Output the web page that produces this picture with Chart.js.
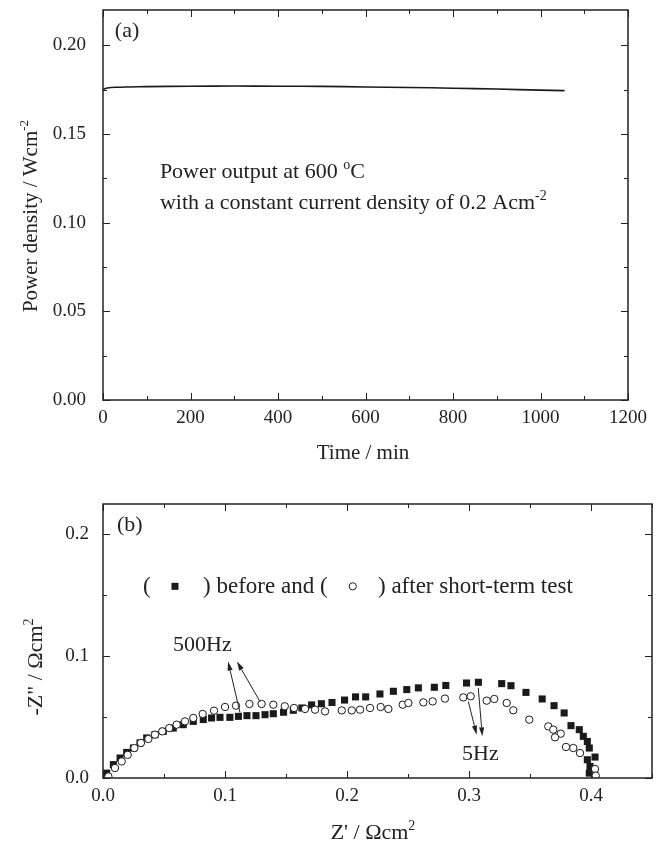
<!DOCTYPE html>
<html>
<head>
<meta charset="utf-8">
<script src="https://cdn.jsdelivr.net/npm/chart.js@4.4.0/dist/chart.umd.min.js"></script>
<style>
  html, body { margin: 0; padding: 0; background: #fff; }
  #wrap { position: relative; width: 659px; height: 844px; }
  canvas { position: absolute; left: 0; top: 0; }
</style>
</head>
<body>
<div id="wrap">
  <canvas id="chartA" width="659" height="844"></canvas>
  <canvas id="chartB" width="659" height="844"></canvas>
</div>
<script>
// (a) power density vs time
const timeMin = [0, 10, 30, 60, 100, 200, 300, 400, 500, 600, 700, 800, 900, 1000, 1055];
const powerDensity = [0.1752, 0.1760, 0.1764, 0.1766, 0.1768, 0.1770, 0.1771, 0.1770, 0.1769, 0.1766, 0.1763, 0.1759, 0.1754, 0.1748, 0.1745];

// (b) impedance spectra, before the test (filled squares)
const beforeRe = [0.003, 0.0085, 0.014, 0.0194, 0.0249, 0.0303, 0.0358, 0.0426, 0.0494, 0.0576, 0.0658, 0.074,
  0.0822, 0.089, 0.0959, 0.104, 0.111, 0.118, 0.1254, 0.1328, 0.1396, 0.148, 0.156, 0.163, 0.171, 0.179,
  0.1877, 0.198, 0.207, 0.2153, 0.227, 0.238, 0.249, 0.2585, 0.2716, 0.281, 0.298, 0.3077, 0.3268, 0.3344,
  0.3467, 0.360, 0.3697, 0.378, 0.3836, 0.3904, 0.3937, 0.397, 0.3986, 0.4033, 0.397, 0.3992, 0.3986];
const beforeIm = [0.004, 0.011, 0.0164, 0.021, 0.0246, 0.0288, 0.0329, 0.0356, 0.0383, 0.041, 0.0438, 0.0465,
  0.048, 0.0493, 0.0498, 0.0498, 0.0506, 0.0512, 0.0512, 0.052, 0.0528, 0.054, 0.0556, 0.0575, 0.060, 0.061,
  0.062, 0.064, 0.0666, 0.0666, 0.069, 0.0712, 0.0726, 0.074, 0.0745, 0.076, 0.078, 0.0786, 0.0775, 0.0758,
  0.0703, 0.0649, 0.0594, 0.0534, 0.043, 0.0397, 0.0342, 0.030, 0.0246, 0.0172, 0.015, 0.0095, 0.004];

// after the short-term test (open circles)
const afterRe = [0.0044, 0.0098, 0.0153, 0.0202, 0.0257, 0.0311, 0.0372, 0.0426, 0.0486, 0.0543, 0.0604, 0.0672,
  0.074, 0.0817, 0.091, 0.100, 0.109, 0.120, 0.130, 0.1396, 0.149, 0.1566, 0.1656, 0.1738, 0.182, 0.1957,
  0.2039, 0.2107, 0.2189, 0.2276, 0.2339, 0.2457, 0.2503, 0.2626, 0.2702, 0.2803, 0.2953, 0.3014, 0.3145,
  0.3207, 0.3309, 0.3363, 0.3494, 0.365, 0.3691, 0.3752, 0.3705, 0.3795, 0.3855, 0.391, 0.4033, 0.4039];
const afterIm = [0.0013, 0.0082, 0.0136, 0.019, 0.0246, 0.0288, 0.032, 0.0356, 0.0383, 0.041, 0.0438, 0.0465,
  0.0493, 0.0526, 0.0553, 0.0583, 0.0594, 0.0608, 0.0608, 0.0602, 0.0589, 0.0575, 0.0567, 0.0561, 0.0547, 0.0555,
  0.0555, 0.0561, 0.0575, 0.0583, 0.0567, 0.0602, 0.0616, 0.0621, 0.0629, 0.0652, 0.0662, 0.0671, 0.0635,
  0.0649, 0.0616, 0.0556, 0.0479, 0.0424, 0.0397, 0.0364, 0.0334, 0.0255, 0.0246, 0.0205, 0.0074, 0.0019];

const serif = "'Liberation Serif', 'Times New Roman', serif";
const ink = '#222';
const tickFont = { family: serif, size: 19, lineHeight: 1 };

function toPoints(xs, ys) {
  return xs.map((x, i) => ({ x: x, y: ys[i] }));
}

function isMajor(v, step) {
  const r = v / step;
  return Math.abs(r - Math.round(r)) < 1e-6;
}

// text with optional superscript pieces, parts = [[text, sup], ...]
function drawRich(ctx, parts, x, y, size, align) {
  const supSize = Math.round(size * 0.62);
  let total = 0;
  const widths = parts.map(p => {
    ctx.font = (p[1] ? supSize : size) + 'px ' + serif;
    const w = ctx.measureText(p[0]).width;
    total += w;
    return w;
  });
  let cx = align === 'center' ? x - total / 2 : x;
  ctx.textAlign = 'left';
  ctx.textBaseline = 'alphabetic';
  parts.forEach((p, i) => {
    ctx.font = (p[1] ? supSize : size) + 'px ' + serif;
    ctx.fillText(p[0], cx, p[1] ? y - size * 0.42 : y);
    cx += widths[i];
  });
}

function drawArrow(ctx, x1, y1, x2, y2) {
  const ang = Math.atan2(y2 - y1, x2 - x1);
  const len = 9, half = 2.6;
  const bx = x2 - len * Math.cos(ang), by = y2 - len * Math.sin(ang);
  ctx.beginPath();
  ctx.moveTo(x1, y1);
  ctx.lineTo(bx, by);
  ctx.stroke();
  ctx.beginPath();
  ctx.moveTo(x2, y2);
  ctx.lineTo(bx + half * Math.sin(ang), by - half * Math.cos(ang));
  ctx.lineTo(bx - half * Math.sin(ang), by + half * Math.cos(ang));
  ctx.closePath();
  ctx.fill();
}

// box around the plot and inward ticks on all four sides
const frameTicks = {
  id: 'frameTicks',
  afterDatasetsDraw(chart) {
    const { ctx, chartArea: a, scales } = chart;
    ctx.save();
    ctx.strokeStyle = ink;
    ctx.lineWidth = 1;
    scales.x.ticks.forEach(t => {
      const px = Math.round(scales.x.getPixelForValue(t.value)) + 0.5;
      const len = t.label !== '' ? 7 : 4;
      ctx.beginPath();
      ctx.moveTo(px, a.bottom); ctx.lineTo(px, a.bottom - len);
      ctx.moveTo(px, a.top); ctx.lineTo(px, a.top + len);
      ctx.stroke();
    });
    scales.y.ticks.forEach(t => {
      const py = Math.round(scales.y.getPixelForValue(t.value)) + 0.5;
      const len = t.label !== '' ? 7 : 4;
      ctx.beginPath();
      ctx.moveTo(a.left, py); ctx.lineTo(a.left + len, py);
      ctx.moveTo(a.right, py); ctx.lineTo(a.right - len, py);
      ctx.stroke();
    });
    ctx.lineWidth = 1.5;
    ctx.strokeRect(a.left, a.top, a.right - a.left, a.bottom - a.top);
    ctx.restore();
  }
};

// fixed axis box size; drop the label overhang padding so the plot area stays put
function fixSize(prop, px) {
  return s => {
    s[prop] = px;
    s.paddingTop = 0; s.paddingBottom = 0; s.paddingLeft = 0; s.paddingRight = 0;
  };
}

function axisOpts(min, max, step, majorStep, digits, labelPad, afterFit) {
  return {
    type: 'linear',
    min: min,
    max: max,
    grid: { display: false, drawTicks: false },
    border: { display: false },
    afterFit: afterFit,
    ticks: {
      stepSize: step,
      includeBounds: false,
      autoSkip: false,
      maxRotation: 0,
      padding: labelPad,
      font: tickFont,
      color: ink,
      callback: v => isMajor(v, majorStep) ? v.toFixed(digits) : ''
    }
  };
}

// ---- panel (a)
const notesA = {
  id: 'notesA',
  afterDraw(chart) {
    const { ctx, scales } = chart;
    const X = v => scales.x.getPixelForValue(v);
    const Y = v => scales.y.getPixelForValue(v);
    ctx.save();
    ctx.fillStyle = ink;
    drawRich(ctx, [['(a)']], X(27), Y(0.2045), 22, 'left');
    drawRich(ctx, [['Power output at 600 '], ['o', true], ['C']], X(130), Y(0.125), 22, 'left');
    drawRich(ctx, [['with a constant current density of 0.2 Acm'], ['-2', true]], X(130), Y(0.1076), 22, 'left');
    drawRich(ctx, [['Time / min']], 363, 459, 21, 'center');
    ctx.translate(37, 216);
    ctx.rotate(-Math.PI / 2);
    drawRich(ctx, [['Power density / Wcm'], ['-2', true]], 0, 0, 21, 'center');
    ctx.restore();
  }
};

new Chart(document.getElementById('chartA'), {
  type: 'scatter',
  data: {
    datasets: [{
      data: toPoints(timeMin, powerDensity),
      showLine: true,
      borderColor: '#1a1a1a',
      borderWidth: 1.6,
      pointRadius: 0,
      tension: 0.3
    }]
  },
  options: {
    responsive: false,
    animation: false,
    devicePixelRatio: 1,
    layout: { padding: { top: 10, right: 31, bottom: 394, left: 0 } },
    plugins: { legend: { display: false }, tooltip: { enabled: false } },
    scales: {
      x: axisOpts(0, 1200, 100, 200, 0, 9, fixSize('height', 50)),
      y: axisOpts(0, 0.22, 0.025, 0.05, 2, 17, fixSize('width', 103))
    }
  },
  plugins: [frameTicks, notesA]
});

// ---- panel (b)
const notesB = {
  id: 'notesB',
  afterDraw(chart) {
    const { ctx, scales } = chart;
    const X = v => scales.x.getPixelForValue(v);
    const Y = v => scales.y.getPixelForValue(v);
    ctx.save();
    ctx.fillStyle = ink;
    ctx.strokeStyle = ink;
    ctx.lineWidth = 1;
    drawRich(ctx, [['(b)']], X(0.0115), Y(0.2032), 22, 'left');

    // legend line
    const ly = Y(0.1523);
    drawRich(ctx, [['(']], X(0.0328), ly, 23, 'left');
    drawRich(ctx, [[') before and (']], X(0.082), ly, 23, 'left');
    drawRich(ctx, [[') after short-term test']], X(0.2254), ly, 23, 'left');
    const my = Y(0.1574);
    ctx.fillStyle = '#1a1a1a';
    ctx.fillRect(X(0.059) - 3.5, my - 3.5, 7, 7);
    ctx.beginPath();
    ctx.arc(X(0.2047), my, 3.6, 0, Math.PI * 2);
    ctx.fillStyle = '#fff';
    ctx.fill();
    ctx.stroke();
    ctx.fillStyle = ink;

    drawRich(ctx, [['500Hz']], X(0.0574), Y(0.1046), 22, 'left');
    drawRich(ctx, [['5Hz']], X(0.2943), Y(0.0151), 22, 'left');
    drawArrow(ctx, X(0.1123), Y(0.0537), X(0.1025), Y(0.0956));
    drawArrow(ctx, X(0.1287), Y(0.0627), X(0.1098), Y(0.0956));
    drawArrow(ctx, X(0.2994), Y(0.0629), X(0.3063), Y(0.0356));
    drawArrow(ctx, X(0.3076), Y(0.074), X(0.3109), Y(0.0342));

    drawRich(ctx, [["Z' / \u03A9cm"], ['2', true]], 373, 839, 22, 'center');
    ctx.translate(42, 667);
    ctx.rotate(-Math.PI / 2);
    drawRich(ctx, [['-Z" / \u03A9cm'], ['2', true]], 0, 0, 22, 'center');
    ctx.restore();
  }
};

new Chart(document.getElementById('chartB'), {
  type: 'scatter',
  data: {
    datasets: [{
      label: 'after',
      data: toPoints(afterRe, afterIm),
      order: 0,
      pointStyle: 'circle',
      pointRadius: 3.7,
      pointBorderWidth: 1,
      pointBorderColor: '#1a1a1a',
      pointBackgroundColor: '#fff'
    }, {
      label: 'before',
      data: toPoints(beforeRe, beforeIm),
      order: 1,
      pointStyle: 'rect',
      pointRadius: 5,
      pointBorderWidth: 0,
      pointBackgroundColor: '#1a1a1a'
    }]
  },
  options: {
    responsive: false,
    animation: false,
    devicePixelRatio: 1,
    layout: { padding: { top: 504, right: 7, bottom: 16, left: 0 } },
    plugins: { legend: { display: false }, tooltip: { enabled: false } },
    scales: {
      x: axisOpts(0, 0.45, 0.05, 0.1, 1, 9, fixSize('height', 50)),
      y: axisOpts(0, 0.225, 0.05, 0.1, 1, 14, fixSize('width', 103))
    }
  },
  plugins: [frameTicks, notesB]
});
</script>
</body>
</html>
